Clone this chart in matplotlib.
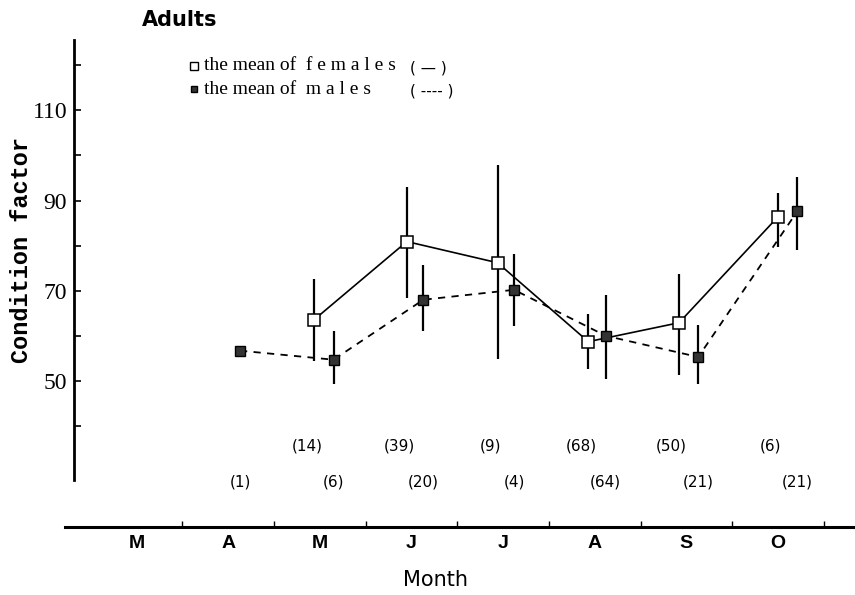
import numpy as np
import matplotlib
matplotlib.use("Agg")
from matplotlib import pyplot as plt

# month index: Mar spans [0,1], Apr [1,2], ... Oct [7,8]
months = ["M", "A", "M", "J", "J", "A", "S", "O"]

fem_x = [2.44, 3.45, 4.44, 5.43, 6.42, 7.50]
fem_mean = [63.6, 80.9, 76.2, 58.7, 62.9, 86.4]
fem_lo = [54.4, 68.4, 54.9, 52.7, 51.3, 79.6]
fem_hi = [72.7, 92.9, 97.8, 64.9, 73.8, 91.6]
fem_n = [14, 39, 9, 68, 50, 6]

mal_x = [1.63, 2.65, 3.63, 4.62, 5.62, 6.63, 7.71]
mal_mean = [56.7, 54.7, 68.0, 70.2, 60.0, 55.3, 87.6]
mal_lo = [np.nan, 49.3, 61.1, 62.2, 50.4, 49.3, 79.1]
mal_hi = [np.nan, 61.1, 75.6, 78.2, 69.1, 62.4, 95.3]
mal_n = [1, 6, 20, 4, 64, 21, 21]

fig = plt.figure(figsize=(8.55, 5.95), dpi=100)
ax = fig.add_axes([65/855, 1 - 527/595, 790/855, 487/595])
ax.set_xlim(-0.28, 8.34)
ax.set_ylim(17.6, 125.6)

# error bars
ax.vlines(fem_x, fem_lo, fem_hi, color="black", lw=1.6)
ax.vlines(mal_x, mal_lo, mal_hi, color="black", lw=1.6)

# lines
ax.plot(fem_x, fem_mean, color="black", lw=1.2, zorder=3)
ax.plot(mal_x, mal_mean, color="black", lw=1.3, ls=(0, (4, 3.5)), zorder=3)

ax.plot(fem_x, fem_mean, ls="none", marker="s", ms=8, mfc="white",
        mec="black", mew=1.1, zorder=4)
ax.plot(mal_x, mal_mean, ls="none", marker="s", ms=7, mfc="#333333",
        mec="black", mew=1.0, zorder=4)

# sample sizes
for x, n in zip(fem_x, fem_n):
    ax.text(x - 0.08, 35.5, "(%d)" % n, ha="center", va="center",
            fontsize=11, family="Liberation Sans Narrow")
for x, n in zip(mal_x, mal_n):
    ax.text(x, 27.5, "(%d)" % n, ha="center", va="center",
            fontsize=11, family="Liberation Sans Narrow")

# axes styling
for s in ["top", "right"]:
    ax.spines[s].set_visible(False)
ax.spines["left"].set_position(("data", -0.18))
ax.spines["left"].set_bounds(28, 125.6)
ax.spines["left"].set_linewidth(2)
ax.spines["bottom"].set_linewidth(2.2)

ax.set_yticks([50, 70, 90, 110])
ax.set_yticks([40, 60, 80, 100, 120], minor=True)
ax.tick_params(axis="y", which="both", direction="in", length=5, width=1.2,
               pad=5)
for lab in ax.get_yticklabels():
    lab.set_family("Liberation Serif")
    lab.set_fontsize(17)

ax.set_xticks(range(1, 9))
ax.set_xticklabels([])
ax.set_xticks(np.arange(8) + 0.5, minor=True)
ax.set_xticklabels(months, minor=True, fontsize=14, fontweight="bold",
                   family="Liberation Sans")
ax.tick_params(axis="x", which="major", direction="in", length=4, width=1)
ax.tick_params(axis="x", which="minor", length=0, pad=6)

fig.text(22/855, 1 - 250/595, "Condition factor", rotation=90, ha="center",
         va="center", fontsize=17, fontweight="bold", family="Liberation Mono")
fig.text(435/855, 1 - 580/595, "Month", ha="center", va="center",
         fontsize=15, family="DejaVu Sans")
fig.text(142/855, 1 - 20/595, "Adults", ha="left", va="center",
         fontsize=15, fontweight="bold", family="DejaVu Sans")

# legend
fig.lines.append(plt.Line2D([194/855], [1 - 66/595], marker="s", ms=6,
                            mfc="white", mec="black", mew=1,
                            transform=fig.transFigure))
fig.lines.append(plt.Line2D([194/855], [1 - 89/595], marker="s", ms=5,
                            mfc="#333333", mec="black", mew=1,
                            transform=fig.transFigure))
fig.text(204/855, 1 - 66/595, "the mean of  f e m a l e s", ha="left",
         va="center", fontsize=14, family="Liberation Serif")
fig.text(204/855, 1 - 89/595, "the mean of  m a l e s", ha="left",
         va="center", fontsize=14, family="Liberation Serif")
fig.text(410/855, 1 - 68/595, "( \u2014 )", ha="left", va="center",
         fontsize=11, family="DejaVu Sans")
fig.text(410/855, 1 - 91/595, "( ---- )", ha="left", va="center",
         fontsize=11, family="DejaVu Sans")

fig.savefig("out.png", dpi=100)
